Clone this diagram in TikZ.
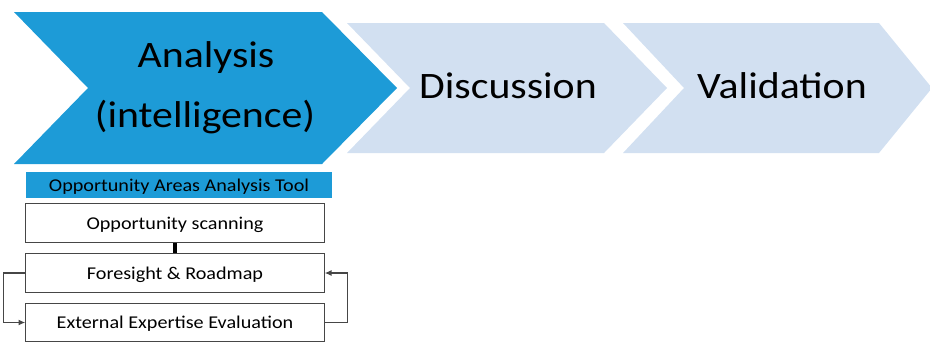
\documentclass[tikz,border=0pt]{standalone}
\usepackage{fontspec}
\usepackage{tikz}
\usetikzlibrary{arrows,arrows.meta,shapes}
\newfontfamily\stagefont[FakeStretch=1.12]{Carlito}
\definecolor{darkchev}{RGB}{29,155,215}
\definecolor{lightchev}{RGB}{210,224,241}
\definecolor{boxgray}{RGB}{70,70,70}
\tikzstyle{tool edge} = [draw=boxgray,line width=0.8pt,-{Latex[length=5pt,width=4.5pt]}]

\begin{document}
\begin{tikzpicture}
[x=0.75pt,y=-0.75pt, %
stageText/.style={anchor=base,inner sep=0pt,font=\stagefont\fontsize{28}{34}\selectfont}, %
toolBox/.style={draw=boxgray,fill=white,line width=0.75pt,inner sep=0pt,minimum width=224pt,minimum height=29pt,text height=9.5pt,text depth=0.5pt,font=\stagefont\fontsize{13.5}{16}\selectfont}, %
toolTitle/.style={fill=darkchev,inner sep=0pt,minimum width=229.5pt,minimum height=19.5pt,text height=9.5pt,text depth=0.5pt,font=\stagefont\fontsize{13.5}{16}\selectfont}]

\useasboundingbox (0,0) rectangle (930,343);

%% chevrons
\fill[darkchev] (14,12) -- (322,12) -- (397,88) -- (322,164) -- (14,164) -- (88,88) -- cycle;
\foreach \xl/\xn/\xr/\xt in {347/410/604/667, 623/684/879/932}
{
\fill[lightchev] (\xl,23) -- (\xr,23) -- (\xt,88) -- (\xr,153) -- (\xl,153) -- (\xn,88) -- cycle;
}

%% stage labels
\node (analysis) at (206,67) [stageText] {Analysis};
\node (intelligence) at (205,127) [stageText] {(intelligence)};
\node (discussion) at (508,98) [stageText] {Discussion};
\node (validation) at (782,98) [stageText] {Validation};

%% tool boxes
\node (tool) at (179,185) [toolTitle] {Opportunity Areas Analysis Tool};
\node (scanning) at (175,223) [toolBox] {Opportunity scanning};
\node (foresight) at (175,273) [toolBox] {Foresight \& Roadmap};
\node (expertise) at (175,322.5) [toolBox] {External Expertise Evaluation};

%% edges or lines
\draw[line width=3pt] (scanning.south) -- (foresight.north);
\path (foresight.west) edge[tool edge,to path={-- ++(-22,0) |- (\tikztotarget)}] (expertise.west);
\path (expertise.east) edge[tool edge,to path={-- ++(23,0) |- (\tikztotarget)}] (foresight.east);

\end{tikzpicture}
\end{document}
